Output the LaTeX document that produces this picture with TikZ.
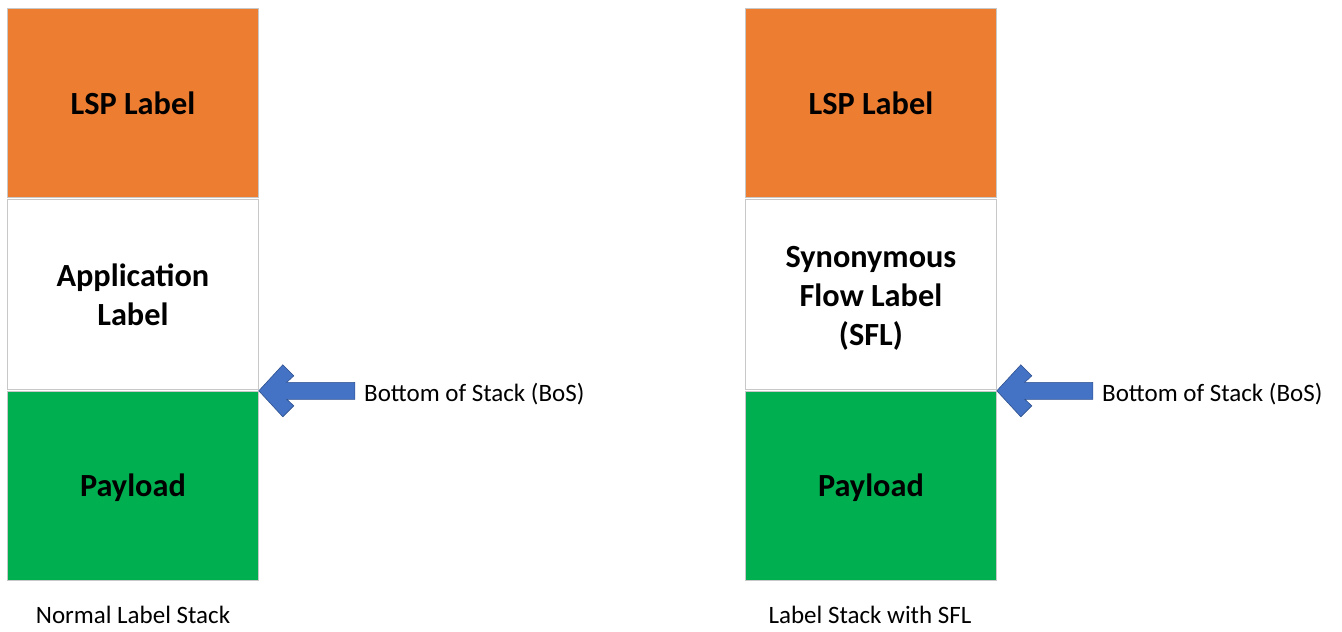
\documentclass[tikz,border=0pt]{standalone}
\usepackage{fontspec}
\setmainfont{Carlito}
\usetikzlibrary{calc}
\definecolor{lsporange}{HTML}{ED7D31}
\definecolor{paygreen}{HTML}{00B050}
\definecolor{boxline}{HTML}{C8C8C8}
\definecolor{arrowblue}{HTML}{4472C4}
\definecolor{arrowedge}{HTML}{2F528F}
\begin{document}
\begin{tikzpicture}[x=1bp,y=-1bp,
  layer/.style={draw=boxline,line width=0.8bp,minimum width=251bp,inner sep=0pt,anchor=north west,align=center,
     font=\fontsize{32.3bp}{39bp}\selectfont\bfseries},
  small/.style={font=\fontsize{25bp}{30bp}\selectfont,inner sep=0pt},
  bosarrow/.style={fill=arrowblue,draw=arrowedge,line width=0.6bp,line join=miter}]
\useasboundingbox (0,0) rectangle (1342,632);
% left stack
\node[layer,fill=lsporange,minimum height=189bp] (lsp1) at (7,8) {LSP Label};
\node[layer,fill=white,minimum height=190bp] (app1) at (7,199) {Application\\Label};
\node[layer,fill=paygreen,minimum height=189bp] (pay1) at (7,391) {\raisebox{-2bp}[\height][\depth]{Payload}};
% right stack
\node[layer,fill=lsporange,minimum height=189bp] (lsp2) at (745,8) {LSP Label};
\node[layer,fill=white,minimum height=190bp] (app2) at (745,199) {\raisebox{-4bp}[\height][\depth]{\begin{tabular}{@{}c@{}}Synonymous\\Flow Label\\(SFL)\end{tabular}}};
\node[layer,fill=paygreen,minimum height=189bp] (pay2) at (745,391) {\raisebox{-2bp}[\height][\depth]{Payload}};
% arrows
\foreach \b/\t in {app1/bos1,app2/bos2}{
  \coordinate (\t) at ($(\b.south east)+(0,1)$);
  \draw[bosarrow,shift={(\t)}] (0,0) -- (24,-26) -- (35,-15) -- (28,-8.5) -- (96,-8.5) -- (96,8.5) -- (28,8.5) -- (35,15) -- (24,26) -- cycle;
}
\node[small,anchor=west] (boslab1) at (364,394) {Bottom of Stack (BoS)};
\node[small,anchor=west] (boslab2) at (1102,394) {Bottom of Stack (BoS)};
% captions
\node[small] (cap1) at (133,615) {Normal Label Stack};
\node[small] (cap2) at (870,615) {Label Stack with SFL};
\end{tikzpicture}
\end{document}
